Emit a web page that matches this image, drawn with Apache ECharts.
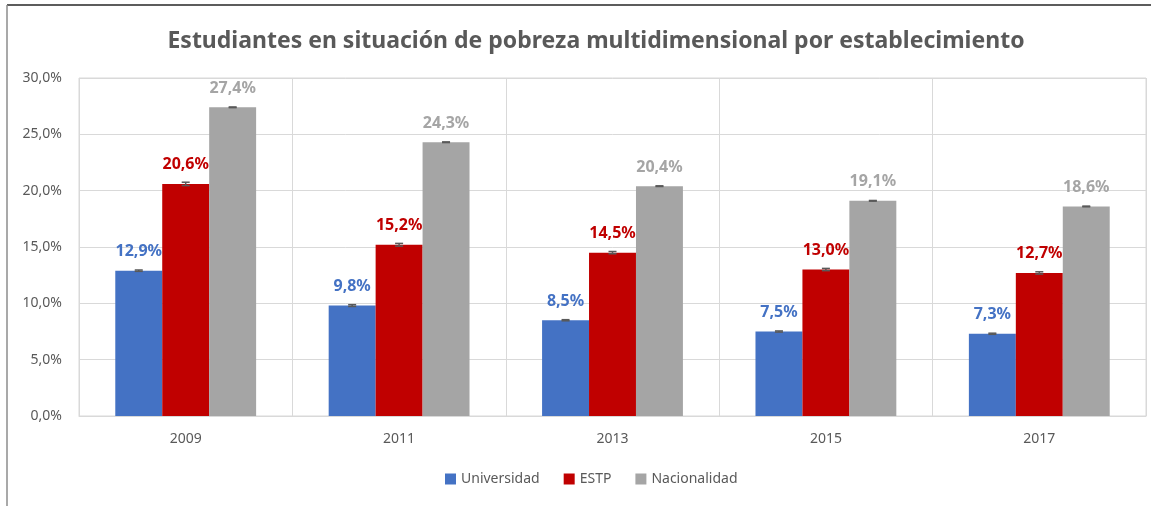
<!DOCTYPE html>
<html>
<head>
<meta charset="utf-8">
<script src="https://cdn.jsdelivr.net/npm/echarts@6/dist/echarts.min.js"></script>
<style>
  html, body { margin: 0; padding: 0; background: #fff; }
  #chart { width: 1161px; height: 506px; }
</style>
</head>
<body>
<div id="chart"></div>
<script>
const years = ["2009", "2011", "2013", "2015", "2017"];
const universidad = [12.9, 9.8, 8.5, 7.5, 7.3];
const estp = [20.6, 15.2, 14.5, 13.0, 12.7];
const nacionalidad = [27.4, 24.3, 20.4, 19.1, 18.6];
// small error margins
const errUniversidad = [0.06, 0.08, 0.05, 0.05, 0.05];
const errEstp = [0.15, 0.12, 0.1, 0.1, 0.1];
const errNacionalidad = [0.03, 0.03, 0.03, 0.03, 0.03];
const yTicks = [0, 5, 10, 15, 20, 25, 30];

const font = "'Noto Sans', sans-serif";
const colors = ["#4472c4", "#c00000", "#a5a5a5"];
const gapRatio = 0.34;

function fmt(v) {
    return v.toFixed(1).replace(".", ",") + "%";
}

function errorSeries(idx, values, errs) {
    return {
        type: "custom",
        name: "err" + idx,
        z: 5,
        silent: true,
        data: values.map((v, i) => [i, v - errs[i], v + errs[i]]),
        renderItem: function (params, api) {
            let band = api.size([1, 0])[0];
            let bw = band * (1 - gapRatio) / 3;
            let x = api.coord([api.value(0), 0])[0] + (idx - 1) * bw;
            let lo = api.coord([api.value(0), api.value(1)])[1];
            let hi = api.coord([api.value(0), api.value(2)])[1];
            let style = { stroke: "#595959", lineWidth: 1.5 };
            return {
                type: "group",
                children: [
                    { type: "line", shape: { x1: x, y1: lo, x2: x, y2: hi }, style: style },
                    { type: "line", shape: { x1: x - 4, y1: lo, x2: x + 4, y2: lo }, style: style },
                    { type: "line", shape: { x1: x - 4, y1: hi, x2: x + 4, y2: hi }, style: style }
                ]
            };
        }
    };
}

function barSeries(name, values, color) {
    return {
        name: name,
        type: "bar",
        data: values,
        barGap: "0%",
        barCategoryGap: (gapRatio * 100) + "%",
        itemStyle: { color: color },
        label: {
            show: true,
            position: "top",
            distance: 11,
            color: color,
            fontFamily: font,
            fontWeight: "bold",
            fontSize: 16,
            formatter: p => fmt(p.value)
        }
    };
}

let chart = echarts.init(document.getElementById("chart"));
let option = {
    animation: false,
    backgroundColor: "#fff",
    color: colors,
    title: {
        text: "Estudiantes en situación de pobreza multidimensional por establecimiento",
        left: 591,
        textAlign: "center",
        top: 25,
        textStyle: { fontFamily: font, fontWeight: "bold", fontSize: 23, color: "#595959" }
    },
    graphic: [
        { type: "line", shape: { x1: 7, y1: 5, x2: 1151, y2: 5 }, style: { stroke: "#262626", lineWidth: 1.5 } },
        { type: "line", shape: { x1: 7, y1: 5, x2: 7, y2: 506 }, style: { stroke: "#8c8c8c", lineWidth: 1.5 } }
    ],
    legend: {
        data: ["Universidad", "ESTP", "Nacionalidad"],
        bottom: 15,
        left: 440,
        itemWidth: 11,
        itemHeight: 11,
        itemGap: 24,
        icon: "rect",
        textStyle: { fontFamily: font, fontSize: 14, color: "#595959" }
    },
    grid: {
        left: 79,
        right: 15,
        top: 78,
        bottom: 90,
        show: true,
        borderColor: "#d9d9d9",
        borderWidth: 1
    },
    xAxis: {
        type: "category",
        data: years,
        axisLine: { lineStyle: { color: "#d9d9d9" } },
        axisTick: { show: false },
        splitLine: { show: true, lineStyle: { color: "#d9d9d9" } },
        axisLabel: { fontFamily: font, fontSize: 14, color: "#595959", margin: 16 }
    },
    yAxis: {
        type: "value",
        min: yTicks[0],
        max: yTicks[yTicks.length - 1],
        interval: 5,
        axisLine: { show: false },
        axisTick: { show: false },
        splitLine: { lineStyle: { color: "#d9d9d9" } },
        axisLabel: {
            fontFamily: font, fontSize: 14, color: "#595959", margin: 17,
            formatter: v => fmt(v)
        }
    },
    series: [
        barSeries("Universidad", universidad, colors[0]),
        barSeries("ESTP", estp, colors[1]),
        barSeries("Nacionalidad", nacionalidad, colors[2]),
        errorSeries(0, universidad, errUniversidad),
        errorSeries(1, estp, errEstp),
        errorSeries(2, nacionalidad, errNacionalidad)
    ]
};
chart.setOption(option);
</script>
</body>
</html>
